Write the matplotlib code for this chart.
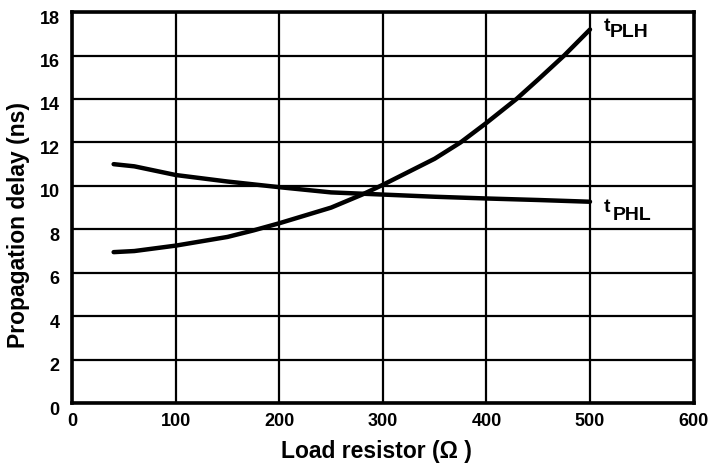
import matplotlib
matplotlib.use("Agg")
import matplotlib.pyplot as plt
from matplotlib import font_manager
from matplotlib.transforms import ScaledTranslation

plt.rcParams['font.family'] = ['Liberation Sans', 'DejaVu Sans']
plt.rcParams['font.weight'] = 'bold'

# pick a narrow face for axis titles if available
try:
    font_manager.findfont(font_manager.FontProperties(family='Liberation Sans Narrow', weight='bold'),
                          fallback_to_default=False)
    title_family = ['Liberation Sans Narrow', 'DejaVu Sans']
    title_size = 20
except Exception:
    title_family = ['Liberation Sans', 'DejaVu Sans']
    title_size = 16.5

# Data
r_plh = [40, 60, 100, 150, 175, 200, 250, 280, 300, 325, 350, 375, 400, 429, 450, 475, 500]
t_plh = [6.95, 7.0, 7.25, 7.65, 7.95, 8.28, 9.0, 9.6, 10.05, 10.65, 11.25, 12.0, 12.9, 14.0, 14.9, 16.0, 17.2]

r_phl = [40, 60, 100, 150, 200, 250, 300, 350, 400, 450, 500]
t_phl = [11.0, 10.9, 10.5, 10.2, 9.94, 9.7, 9.6, 9.5, 9.42, 9.35, 9.27]

x_ticks = [0, 100, 200, 300, 400, 500, 600]
y_ticks = [0, 2, 4, 6, 8, 10, 12, 14, 16, 18]

fig = plt.figure(figsize=(7.15, 4.66), dpi=100)
ax = fig.add_axes([0.101, 0.135, 0.869, 0.839])

ax.plot(r_plh, t_plh, color='black', lw=3.2, solid_capstyle='round', solid_joinstyle='round')
ax.plot(r_phl, t_phl, color='black', lw=3.2, solid_capstyle='round', solid_joinstyle='round')

ax.set_xlim(0, 600)
ax.set_ylim(0, 18)
ax.set_xticks(x_ticks)
ax.set_yticks(y_ticks)
ax.set_xticklabels([str(v) for v in x_ticks], fontsize=13, fontweight='bold')
ax.set_yticklabels([str(v) for v in y_ticks], fontsize=13, fontweight='bold')
ax.tick_params(axis='both', length=0)
ax.tick_params(axis='x', pad=7)
ax.tick_params(axis='y', pad=9)
for lab in ax.get_yticklabels():
    lab.set_transform(lab.get_transform() + ScaledTranslation(0, -5 / 100, fig.dpi_scale_trans))

ax.grid(True, color='black', lw=1.6)
ax.set_axisbelow(True)
for s in ax.spines.values():
    s.set_linewidth(2.6)

ax.set_xlabel('Load resistor (\u03a9 )', fontsize=title_size, fontweight='bold', family=title_family)
ax.set_ylabel('Propagation delay (ns)', fontsize=title_size, fontweight='bold', family=title_family)
ax.xaxis.label.set_va('center')
ax.yaxis.label.set_va('center')
ax.xaxis.set_label_coords(0.49, -0.125)
ax.yaxis.set_label_coords(-0.087, 0.455)

ax.text(513, 17.32, 't', fontsize=14, fontweight='bold', va='center', ha='left')
ax.text(519, 17.08, 'PLH', fontsize=14, fontweight='bold', va='center', ha='left')
ax.text(513, 9.02, 't', fontsize=14, fontweight='bold', va='center', ha='left')
ax.text(522, 8.63, 'PHL', fontsize=14, fontweight='bold', va='center', ha='left')

fig.savefig('out.png', dpi=100)
